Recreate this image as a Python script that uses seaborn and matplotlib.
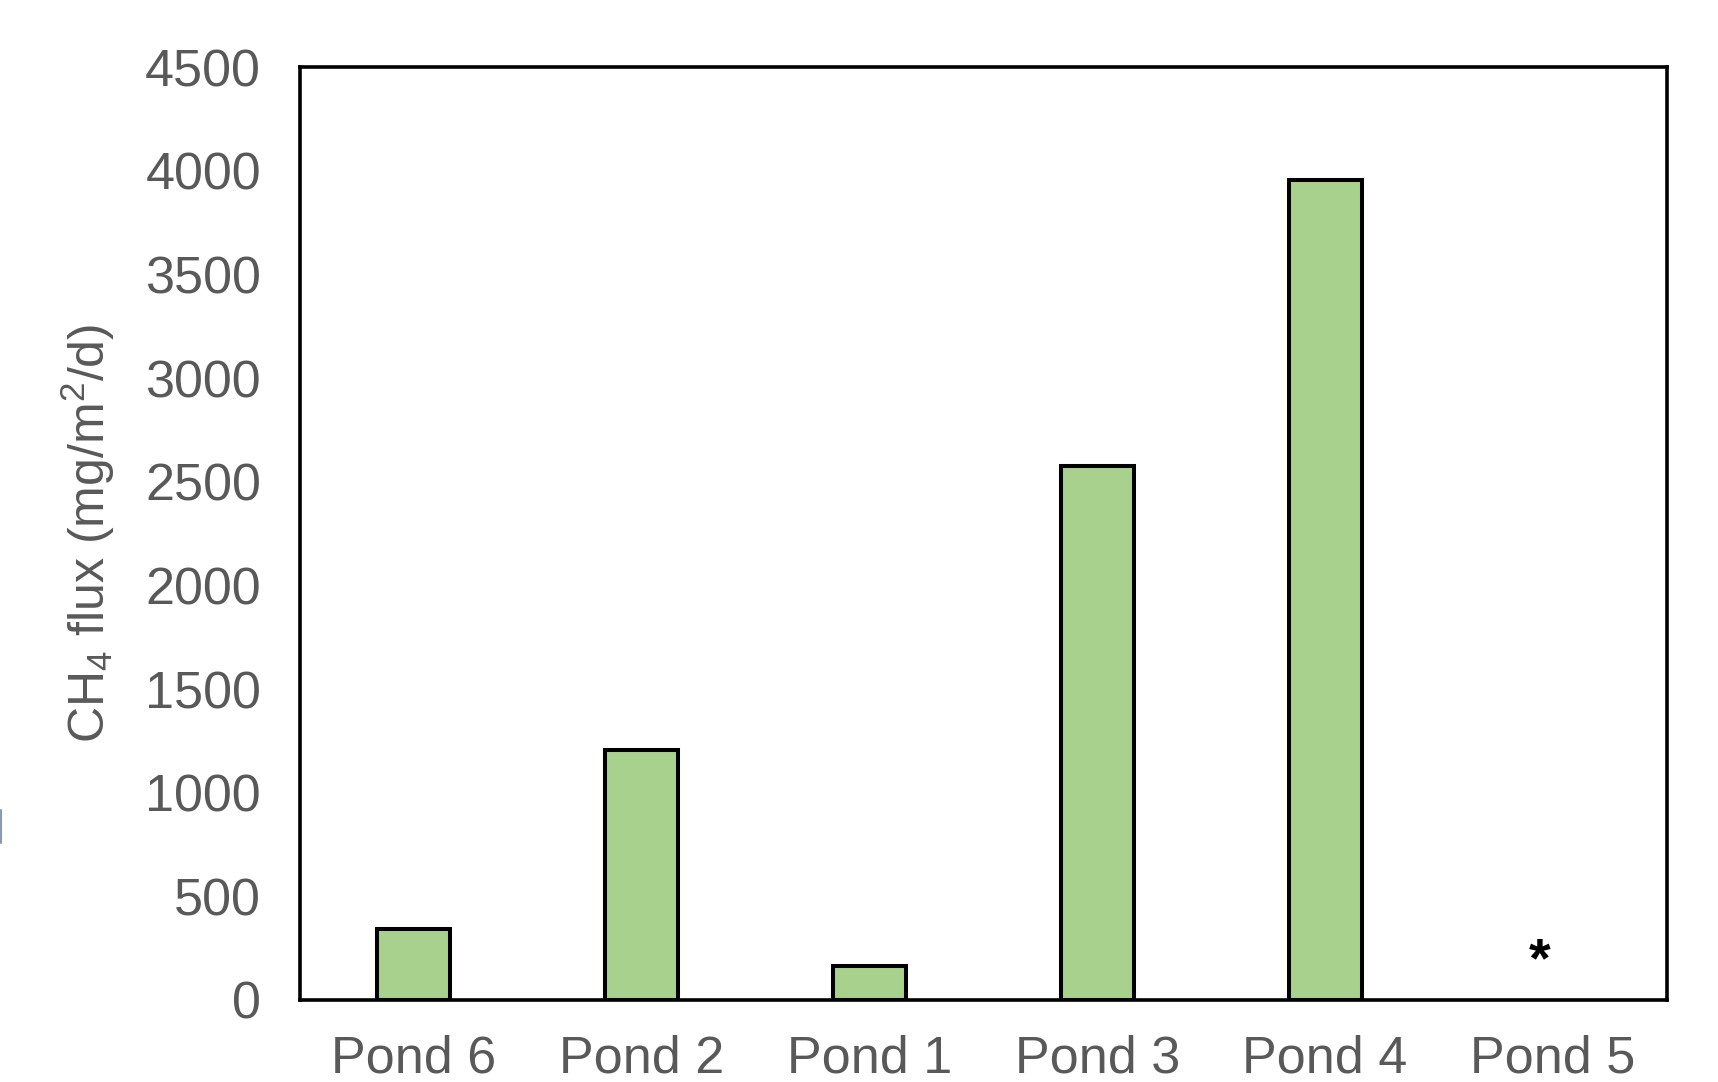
import matplotlib
matplotlib.use("Agg")
import matplotlib.pyplot as plt
import seaborn as sns
import pandas as pd
import numpy as np
from matplotlib.lines import Line2D

ponds = ["Pond 6", "Pond 2", "Pond 1", "Pond 3", "Pond 4", "Pond 5"]
flux = [340, 1205, 165, 2578, 3956, 0]
star_x = 4.94
star_y = 180
yticks = [0, 500, 1000, 1500, 2000, 2500, 3000, 3500, 4000, 4500]

sns.set_theme(style="white")
plt.rcParams['font.family'] = ['Liberation Sans', 'DejaVu Sans']
plt.rcParams['mathtext.fontset'] = 'custom'
plt.rcParams['mathtext.rm'] = 'Liberation Sans'
plt.rcParams['mathtext.it'] = 'Liberation Sans:italic'

df = pd.DataFrame({"pond": ponds, "flux": flux})

fig = plt.figure(figsize=(17.18, 10.82), dpi=100)
ax = fig.add_axes([0.1746, 0.0758, 0.7956, 0.8622])

sns.barplot(data=df, x="pond", y="flux", order=ponds, color="#A9D18E",
            saturation=1, width=0.32, edgecolor="black", linewidth=2.9, ax=ax)
for p, v in zip(ax.patches, flux):
    if v == 0:
        p.set_visible(False)

ax.text(star_x, star_y, "*", ha="center", va="center",
        fontsize=40, color="black", fontweight="bold")

ax.set_xlim(-0.5, len(ponds) - 0.5)
ax.set_ylim(0, 4500)
ax.set_yticks(yticks)
ax.set_yticklabels([str(t) for t in yticks])
ax.tick_params(axis="both", length=0, labelsize=37.5, colors="#595959")
ax.tick_params(axis="y", pad=28)
ax.tick_params(axis="x", pad=25)
ax.set_xlabel("")
ax.set_ylabel(r"CH$_4$ flux (mg/m$^2$/d)", fontsize=36, color="#595959", labelpad=20)
for s in ax.spines.values():
    s.set_visible(True)
    s.set_color("black")
    s.set_linewidth(2.6)

fig.add_artist(Line2D([0.0005, 0.0005], [1 - 810/1082, 1 - 843/1082],
                      transform=fig.transFigure, color="#8a9bb0", linewidth=1.5))

fig.savefig("out.png", dpi=100, facecolor="white")
